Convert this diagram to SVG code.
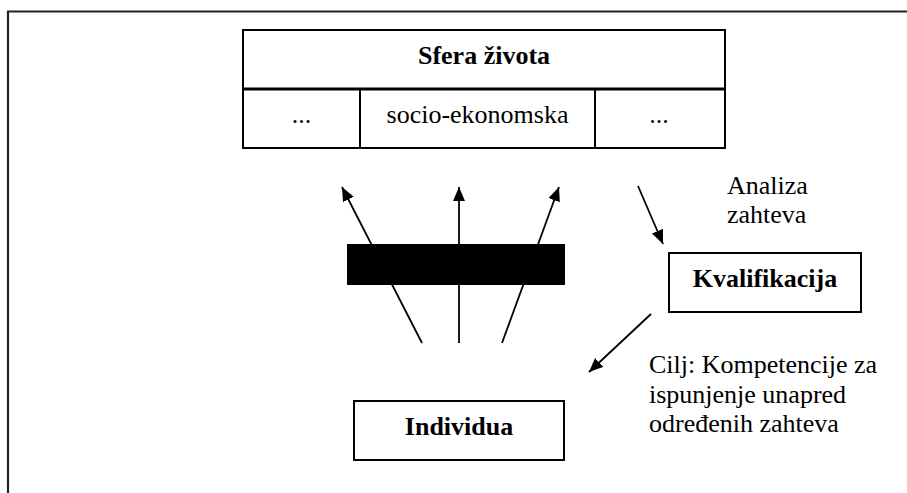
<svg xmlns="http://www.w3.org/2000/svg" width="907" height="493" viewBox="0 0 907 493">
<style>
.t{font-family:"Liberation Serif","Times New Roman",serif;font-size:26px;fill:#000}
.b{font-weight:bold}
.box{fill:#fff;stroke:#000;stroke-width:2}
.ln{stroke:#000;stroke-width:1.8;fill:none}
</style>
<defs>
<marker id="ah" markerUnits="userSpaceOnUse" markerWidth="16" markerHeight="14" refX="14" refY="6" orient="auto">
<path d="M0,0 L14,6 L0,12 Z" fill="#000"/>
</marker>
</defs>
<rect width="907" height="493" fill="#fff"/>
<path d="M8,493 V11.5 H907" fill="none" stroke="#222" stroke-width="2.2"/>

<g id="sfera">
<rect class="box" x="243" y="30" width="482" height="118"/>
<line x1="243" y1="89" x2="725" y2="89" stroke="#000" stroke-width="3"/>
<line x1="360" y1="89" x2="360" y2="148" stroke="#000" stroke-width="2"/>
<line x1="595" y1="89" x2="595" y2="148" stroke="#000" stroke-width="2"/>
<text class="t b" x="484" y="64" text-anchor="middle">Sfera života</text>
<text class="t" x="301.5" y="123" text-anchor="middle">...</text>
<text class="t" x="477.5" y="123" text-anchor="middle">socio-ekonomska</text>
<text class="t" x="659" y="123" text-anchor="middle">...</text>
</g>

<g id="connectors">
<line class="ln" x1="422" y1="343" x2="342" y2="187" marker-end="url(#ah)"/>
<line class="ln" x1="459" y1="343" x2="459" y2="187" marker-end="url(#ah)"/>
<line class="ln" x1="502" y1="343" x2="559" y2="187" marker-end="url(#ah)"/>
<line class="ln" x1="638" y1="186" x2="663" y2="244" marker-end="url(#ah)"/>
<line class="ln" x1="651" y1="314" x2="589" y2="372" marker-end="url(#ah)"/>
</g>

<g id="filter">
<rect x="347" y="244" width="218" height="41" fill="#000"/>
</g>

<g id="analiza">
<text class="t" x="727" y="194">Analiza</text>
<text class="t" x="727" y="223">zahteva</text>
</g>

<g id="kvalifikacija">
<rect class="box" x="669" y="253" width="192" height="59"/>
<text class="t b" x="765" y="287" text-anchor="middle">Kvalifikacija</text>
</g>

<g id="cilj">
<text class="t" x="649" y="373">Cilj: Kompetencije za</text>
<text class="t" x="649" y="403">ispunjenje unapred</text>
<text class="t" x="649" y="432">određenih zahteva</text>
</g>

<g id="individua">
<rect class="box" x="354" y="401" width="210" height="59"/>
<text class="t b" x="459" y="435" text-anchor="middle">Individua</text>
</g>
</svg>
